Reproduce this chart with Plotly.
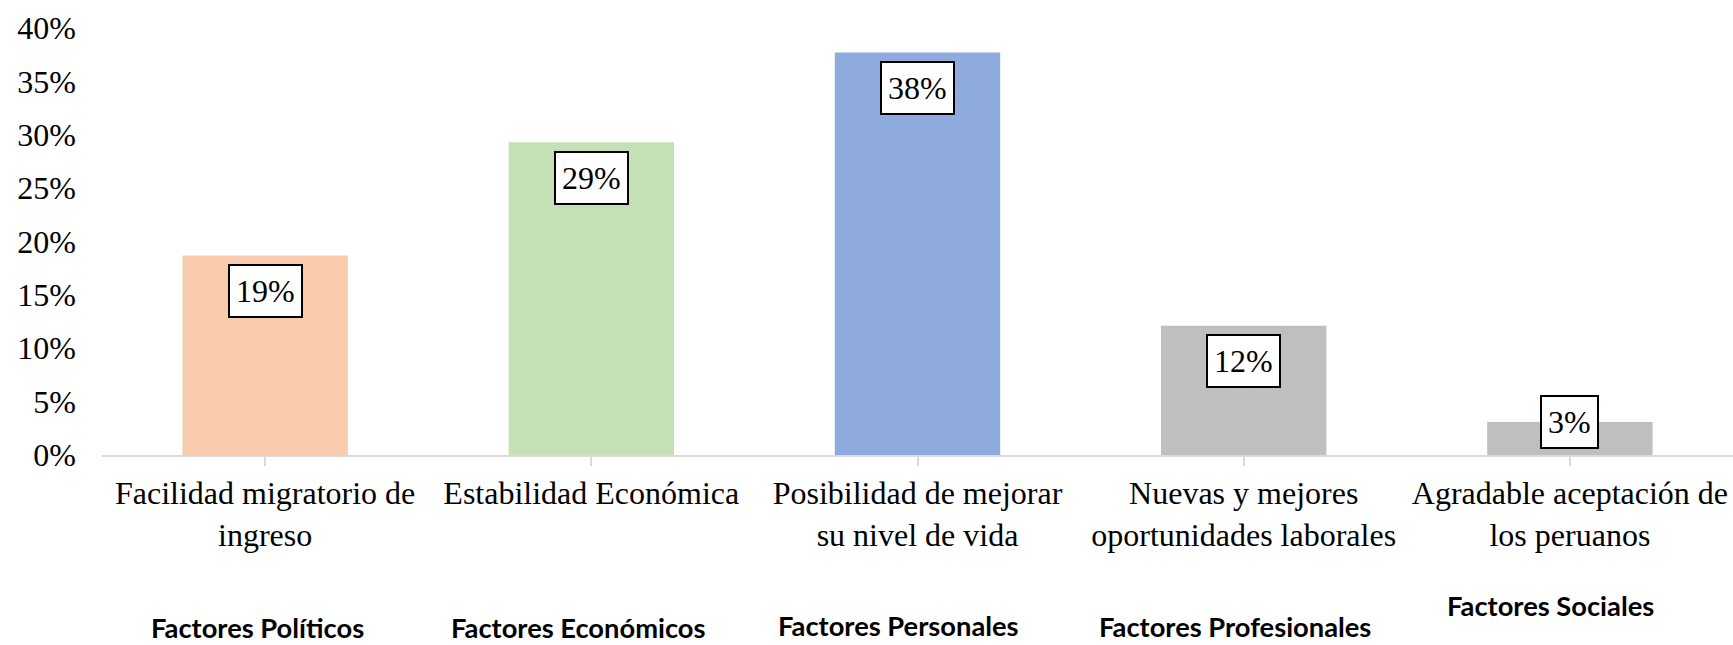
import plotly.graph_objects as go

categories = [
    "Facilidad migratorio de<br>ingreso",
    "Estabilidad Económica",
    "Posibilidad de mejorar<br>su nivel de vida",
    "Nuevas y mejores<br>oportunidades laborales",
    "Agradable aceptación de<br>los peruanos",
]
values = [0.187, 0.293, 0.377, 0.121, 0.031]
value_labels = ["19%", "29%", "38%", "12%", "3%"]
bar_colors = ["#F8CBAD", "#C5E0B4", "#8FAADC", "#BFBFBF", "#BFBFBF"]
group_labels = ["Factores Políticos", "Factores Económicos", "Factores Personales",
                "Factores Profesionales", "Factores Sociales"]
group_dy = [-172, -172, -170, -171, -150]
group_dx = [-8, -13, -19, -9, -19]

y_ticks = [0, 0.05, 0.10, 0.15, 0.20, 0.25, 0.30, 0.35, 0.40]
y_ticktext = ["0%", "5%", "10%", "15%", "20%", "25%", "30%", "35%", "40%"]

x_idx = list(range(len(categories)))

fig = go.Figure()
fig.add_trace(go.Bar(
    x=x_idx, y=values, marker=dict(color=bar_colors, line=dict(width=0)),
    width=0.507, hoverinfo="skip",
))

serif = "Liberation Serif"
box_style = dict(showarrow=False, font=dict(family=serif, size=32, color="black"),
                 bgcolor="white", bordercolor="black", borderwidth=2, borderpad=6,
                 height=38, valign="middle")
for i, (v, t) in enumerate(zip(values, value_labels)):
    if v >= 0.06:
        fig.add_annotation(x=i, y=v, xref="x", yref="y", text=t,
                           yanchor="top", yshift=-8.5, **box_style)
    else:
        fig.add_annotation(x=i, y=0, xref="x", yref="y", text=t,
                           yanchor="bottom", yshift=6.5, **box_style)

for i, (g, dy, dx) in enumerate(zip(group_labels, group_dy, group_dx)):
    fig.add_annotation(x=i, y=0, xref="x", yref="paper", text="<b>" + g + "</b>",
                       showarrow=False, yanchor="middle", yshift=dy, xshift=dx,
                       font=dict(family="Lato", size=27.3, color="black"))

fig.update_layout(
    width=1733, height=645,
    margin=dict(l=102, r=0, t=28, b=190),
    paper_bgcolor="white", plot_bgcolor="white",
    showlegend=False,
    xaxis=dict(
        tickmode="array", tickvals=x_idx, ticktext=categories,
        range=[-0.5, 4.5], automargin=False,
        showline=True, linecolor="#D9D9D9", linewidth=1.5,
        ticks="outside", tickson="boundaries", ticklen=9, tickcolor="#D9D9D9", tickwidth=1.5,
        tickfont=dict(family=serif, size=32, color="black"),
        showgrid=False, zeroline=False,
    ),
    yaxis=dict(
        range=[0, 0.40], tickmode="array", tickvals=y_ticks, ticktext=y_ticktext,
        tickfont=dict(family=serif, size=32, color="black"), automargin=False,
        showgrid=False, zeroline=False, showline=False, ticks="",
        ticklabelstandoff=25,
    ),
)

fig.write_html("out.html", config={"displayModeBar": False},
               post_script="document.body.style.margin='0';document.body.style.overflow='hidden';")
